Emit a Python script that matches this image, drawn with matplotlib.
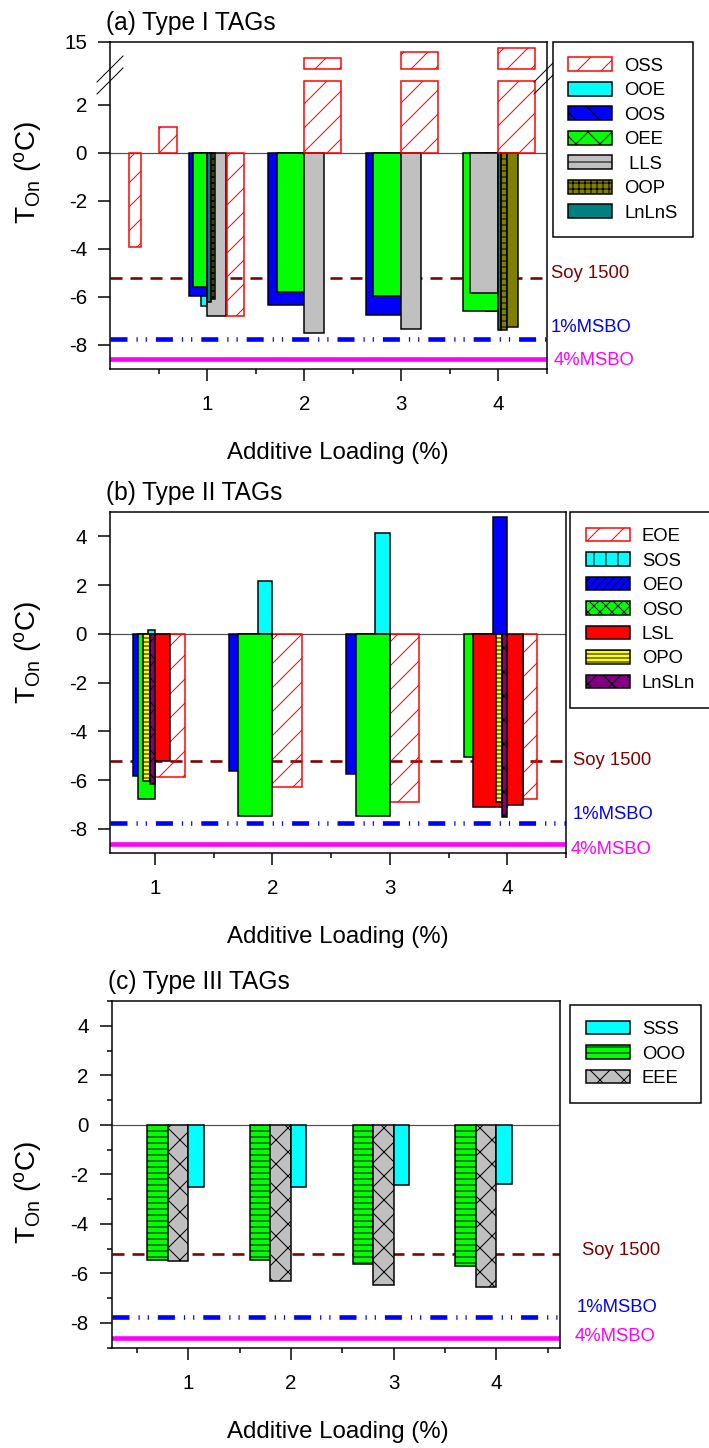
import numpy as np
import matplotlib
matplotlib.use("Agg")
import matplotlib.pyplot as plt
from matplotlib.patches import Patch
from matplotlib.lines import Line2D
import matplotlib.transforms as mtrans

nan = np.nan

# ======================= DATA =======================
loading = [1, 2, 3, 4]
xtick_labels = ["1", "2", "3", "4"]

# (a) Type I TAGs  -- onset temperature T_On (deg C)
oss_loading = [0.25, 0.5, 1, 2, 3, 4]
oss_ton = [-3.9, 1.1, -6.79, 12.1, 13.2, 13.8]
ooe_ton = [-6.36, nan, nan, nan]
oos_ton = [-5.95, -6.33, -6.75, -6.6]
oee_ton = [-5.6, -5.78, -5.94, -6.57]
lls_ton = [-6.79, -7.49, -7.35, -5.85]
lnlns_ton = [-6.2, nan, nan, -7.38]
oop_ton = [-6.08, nan, nan, -7.38]
oop2_ton = [nan, nan, nan, -7.26]

# (b) Type II TAGs
eoe_ton = [-5.89, -6.26, -6.91, -6.77]
sos_ton = [0.18, 2.18, 4.15, nan]
oeo_ton = [-5.82, -5.64, -5.75, 4.81]
oso_ton = [-6.76, -7.45, -7.45, -5.03]
lsl_ton = [-5.23, nan, nan, -7.12]
lsl2_ton = [nan, nan, nan, -7.0]
opo_ton = [-6.05, nan, nan, -6.9]
lnsln_ton = [-6.15, nan, nan, -7.51]

# (c) Type III TAGs
sss_ton = [-2.53, -2.53, -2.45, -2.39]
ooo_ton = [-5.44, -5.44, -5.6, -5.71]
eee_ton = [-5.51, -6.29, -6.45, -6.56]

# reference samples (horizontal lines)
ref_names = ["Soy 1500", "1%MSBO", "4%MSBO"]
ref_ton = [-5.2, -7.75, -8.6]

# ======================= LAYOUT / STYLE =======================
W, H = 709, 1448
DPI = 72
FONT = "Liberation Sans"
plt.rcParams["font.family"] = [FONT, "DejaVu Sans"]
plt.rcParams["mathtext.fontset"] = "custom"
plt.rcParams["mathtext.rm"] = FONT
plt.rcParams["mathtext.it"] = FONT
plt.rcParams["lines.scale_dashes"] = False
plt.rcParams["hatch.linewidth"] = 1.0

FS_TICK = 20.5
FS_LABEL = 24
FS_YLABEL = 28
FS_TITLE = 24.5
FS_LEG = 18.5
FS_REF = 18.5
EDGE_LW = 1.5

# per-bar (left offset from the loading value, width) in loading units
lay_a = {
    "oss": ([-0.05, 0.0, 0.205, 0.0, 0.0, -0.003], [0.117, 0.19, 0.178, 0.377, 0.376, 0.376]),
    "ooe": ([-0.062, 0, 0, 0], [0.062, 0, 0, 0]),
    "oos": ([-0.182, -0.37, -0.366, -0.126], [0.182, 0.37, 0.366, 0.126]),
    "oee": ([-0.141, -0.284, -0.29, -0.367], [0.141, 0.284, 0.29, 0.367]),
    "lls": ([0.0, 0.0, 0.0, -0.288], [0.195, 0.2, 0.2, 0.288]),
    "lnlns": ([0.0, 0, 0, 0.0], [0.035, 0, 0, 0.025]),
    "oop": ([0.035, 0, 0, 0.024], [0.048, 0, 0, 0.06]),
    "oop2": ([0, 0, 0, 0.084], [0, 0, 0, 0.116]),
}
lay_b = {
    "eoe": ([0.0, 0.0, 0.0, 0.131], [0.256, 0.252, 0.25, 0.119]),
    "sos": ([-0.062, -0.125, -0.128, 0], [0.062, 0.125, 0.128, 0]),
    "oeo": ([-0.185, -0.366, -0.37, -0.125], [0.185, 0.366, 0.37, 0.125]),
    "oso": ([-0.142, -0.29, -0.29, -0.366], [0.142, 0.29, 0.29, 0.366]),
    "lsl": ([0.0, 0, 0, -0.295], [0.128, 0, 0, 0.295]),
    "lsl2": ([0, 0, 0, 0.0], [0, 0, 0, 0.131]),
    "opo": ([-0.1, 0, 0, -0.096], [0.057, 0, 0, 0.048]),
    "lnsln": ([-0.043, 0, 0, -0.048], [0.043, 0, 0, 0.048]),
}
lay_c = {"ooo": (-0.4, 0.2), "eee": (-0.2, 0.2), "sss": (0.0, 0.15)}

C_RED = "#FF0000"
C_CYAN = "#00FFFF"
C_BLUE = "#0000FF"
C_GREEN = "#00FF00"
C_GRAY = "#C0C0C0"
C_OLIVE = "#808000"
C_TEAL = "#008080"
C_YELLOW = "#FFFF00"
C_PURPLE = "#800080"
C_DARKRED = "#800000"
C_MAG = "#FF00FF"

# broken axis for panel (a)
BRK_LO, BRK_HI = 3.0, 10.0
GAP = 0.5
UP_SCALE = 0.225


def fwd(y):
    y = np.asarray(y, dtype=float)
    return np.where(y <= BRK_LO, y,
                    np.where(y >= BRK_HI, BRK_LO + GAP + (y - BRK_HI) * UP_SCALE,
                             BRK_LO + (y - BRK_LO) * GAP / (BRK_HI - BRK_LO)))


def inv(m):
    m = np.asarray(m, dtype=float)
    return np.where(m <= BRK_LO, m,
                    np.where(m >= BRK_LO + GAP, BRK_HI + (m - BRK_LO - GAP) / UP_SCALE,
                             BRK_LO + (m - BRK_LO) * (BRK_HI - BRK_LO) / GAP))


def px_axes(fig, left, top, right, bottom):
    return fig.add_axes([left / W, 1 - bottom / H, (right - left) / W, (bottom - top) / H])


fig = plt.figure(figsize=(W / DPI, H / DPI), dpi=DPI)
fig.patch.set_facecolor("white")

ax_a = px_axes(fig, 110, 42, 547, 369)
ax_b = px_axes(fig, 110, 512, 566, 853.3)
ax_c = px_axes(fig, 111.7, 1001, 560, 1347.7)


def draw_series(ax, xs, vals, lay, fc, ec, hatch=None, split=False):
    offs, wids = lay
    for x, v, o, w in zip(xs, vals, offs, wids):
        if np.isnan(v) or w == 0:
            continue
        kw = dict(width=w, align="edge", facecolor=fc, edgecolor=ec,
                  linewidth=EDGE_LW, hatch=hatch, zorder=3)
        if split and v > BRK_LO:
            ax.bar(x + o, BRK_LO, bottom=0, **kw)
            ax.bar(x + o, v - BRK_HI, bottom=BRK_HI, **kw)
        else:
            ax.bar(x + o, v, **kw)


def style_axes(ax, xlim, ylim, yticks, minor_x, minor_y=None):
    ax.set_xlim(*xlim)
    ax.set_ylim(*ylim)
    ax.set_xticks(loading)
    ax.set_xticklabels(xtick_labels)
    ax.set_xticks(minor_x, minor=True)
    ax.set_yticks(yticks)
    ax.set_yticklabels([f"{t:g}" for t in yticks])
    if minor_y is not None:
        ax.set_yticks(minor_y, minor=True)
    else:
        ax.yaxis.set_minor_locator(matplotlib.ticker.NullLocator())
    ax.tick_params(axis="both", which="major", direction="out", length=12, width=1.5,
                   labelsize=FS_TICK, color="black")
    ax.tick_params(axis="both", which="minor", direction="out", length=5, width=1.5)
    ax.tick_params(axis="x", which="major", pad=14)
    ax.tick_params(axis="y", which="major", pad=11)
    ax.tick_params(top=False, right=False, which="both")
    for s in ax.spines.values():
        s.set_linewidth(1.5)
        s.set_color("black")
    ax.axhline(0, color="#505050", lw=1.2, zorder=2)


def ref_lines(ax, label_dx, label_dy):
    styles = [dict(color=C_DARKRED, lw=2.6, dashes=(12, 8)),
              dict(color=C_BLUE, lw=4.6, dashes=(17, 9, 1.2, 8, 1.2, 9)),
              dict(color=C_MAG, lw=4.6, linestyle="-")]
    for name, v, st, dx, dy in zip(ref_names, ref_ton, styles, label_dx, label_dy):
        ax.axhline(v, zorder=1, **st)
        ax.annotate(name, xy=(1, v), xycoords=ax.get_yaxis_transform(),
                    xytext=(dx, dy), textcoords="offset points",
                    ha="left", va="center", color=st["color"], fontsize=FS_REF,
                    annotation_clip=False)


def title(ax, txt):
    ax.annotate(txt, xy=(0, 1), xycoords="axes fraction", xytext=(-4, 7),
                textcoords="offset points", ha="left", va="bottom", fontsize=FS_TITLE)


def legend(ax, handles, labels, left, top):
    lg = fig.legend(handles, labels, loc="upper left",
                    bbox_to_anchor=(left / W, 1 - top / H), borderaxespad=0,
                    fontsize=FS_LEG, frameon=True, fancybox=False, shadow=False,
                    handlelength=2.38, handleheight=0.76, handletextpad=0.65,
                    labelspacing=0.39, borderpad=0.85)
    fr = lg.get_frame()
    fr.set_edgecolor("black")
    fr.set_linewidth(1.5)
    fr.set_alpha(1)
    return lg


def ylabel(ax_center_y):
    fig.text(28 / W, 1 - ax_center_y / H, r"T$_{\mathrm{On}}$ ($^{\mathrm{o}}$C)",
             rotation=90, ha="center", va="center", fontsize=FS_YLABEL)


def xlabel(cy):
    fig.text(338 / W, 1 - cy / H, "Additive Loading (%)", ha="center", va="center",
             fontsize=FS_LABEL)


# ----------------------- panel (a) -----------------------
ax = ax_a
ax.set_yscale("function", functions=(fwd, inv))
draw_series(ax, loading, ooe_ton, lay_a["ooe"], C_CYAN, "black")
draw_series(ax, loading, oos_ton, lay_a["oos"], C_BLUE, "black")
draw_series(ax, loading, oee_ton, lay_a["oee"], C_GREEN, "black")
draw_series(ax, loading, lls_ton, lay_a["lls"], C_GRAY, "black")
draw_series(ax, loading, lnlns_ton, lay_a["lnlns"], C_TEAL, "black")
draw_series(ax, loading, oop_ton, lay_a["oop"], C_OLIVE, "black", hatch="++")
draw_series(ax, loading, oop2_ton, lay_a["oop2"], C_OLIVE, "black")
draw_series(ax, oss_loading, oss_ton, lay_a["oss"], "none", C_RED, hatch="/", split=True)
style_axes(ax, (0, 4.5), (-9, 15), [-8, -6, -4, -2, 0, 2, 15], [0.5, 1.5, 2.5, 3.5, 4.5])
ref_lines(ax, [4, 4, 6.5], [4, 11, -1.5])
title(ax, "(a) Type I TAGs")

# break marks on both spines
ygap_val = inv(BRK_LO + GAP / 2)
for xa in (0, 1):
    cx = ax.transAxes.transform((xa, 0))[0]
    cy = ax.transData.transform((1, float(ygap_val)))[1]
    for d in (-6, 6):
        fig.add_artist(Line2D([cx - 13, cx + 13], [cy + d - 13, cy + d + 13],
                              transform=mtrans.IdentityTransform(), color="black",
                              lw=1.0, clip_on=False))

leg_a = [Patch(facecolor="white", edgecolor=C_RED, hatch="/", lw=EDGE_LW),
         Patch(facecolor=C_CYAN, edgecolor="black", lw=EDGE_LW),
         Patch(facecolor=C_BLUE, edgecolor="black", hatch="\\", lw=EDGE_LW),
         Patch(facecolor=C_GREEN, edgecolor="black", hatch="x", lw=EDGE_LW),
         Patch(facecolor=C_GRAY, edgecolor="black", hatch="-", lw=EDGE_LW),
         Patch(facecolor=C_OLIVE, edgecolor="black", hatch="++", lw=EDGE_LW),
         Patch(facecolor=C_TEAL, edgecolor="black", lw=EDGE_LW)]
legend(ax, leg_a, ["OSS", "OOE", "OOS", "OEE", " LLS", "OOP", "LnLnS"], 552.7, 41.7)
ylabel(172)
xlabel(453)

# ----------------------- panel (b) -----------------------
ax = ax_b
draw_series(ax, loading, eoe_ton, lay_b["eoe"], "none", C_RED, hatch="/")
draw_series(ax, loading, sos_ton, lay_b["sos"], C_CYAN, "black")
draw_series(ax, loading, oeo_ton, lay_b["oeo"], C_BLUE, "black")
draw_series(ax, loading, oso_ton, lay_b["oso"], C_GREEN, "black")
draw_series(ax, loading, lsl_ton, lay_b["lsl"], C_RED, "black")
draw_series(ax, loading, lsl2_ton, lay_b["lsl2"], C_RED, "black")
draw_series(ax, loading, opo_ton, lay_b["opo"], C_YELLOW, "black", hatch="---")
draw_series(ax, loading, lnsln_ton, lay_b["lnsln"], C_PURPLE, "black", hatch="x")
style_axes(ax, (0.617, 4.5), (-9, 5), [-8, -6, -4, -2, 0, 2, 4], [1.5, 2.5, 3.5, 4.5])
ref_lines(ax, [7, 7, 5], [0, 8, -6])
title(ax, "(b) Type II TAGs")
leg_b = [Patch(facecolor="white", edgecolor=C_RED, hatch="/", lw=EDGE_LW),
         Patch(facecolor=C_CYAN, edgecolor="black", hatch="|", lw=EDGE_LW),
         Patch(facecolor=C_BLUE, edgecolor="black", hatch="///", lw=EDGE_LW),
         Patch(facecolor=C_GREEN, edgecolor="black", hatch="xx", lw=EDGE_LW),
         Patch(facecolor=C_RED, edgecolor="black", lw=EDGE_LW),
         Patch(facecolor=C_YELLOW, edgecolor="black", hatch="---", lw=EDGE_LW),
         Patch(facecolor=C_PURPLE, edgecolor="black", hatch="x", lw=EDGE_LW)]
legend(ax, leg_b, ["EOE", "SOS", "OEO", "OSO", "LSL", "OPO", "LnSLn"], 570, 512)
ylabel(652)
xlabel(937)

# ----------------------- panel (c) -----------------------
ax = ax_c
for vals, key, fc, hat in [(ooo_ton, "ooo", C_GREEN, "--"),
                           (eee_ton, "eee", C_GRAY, "x"),
                           (sss_ton, "sss", C_CYAN, None)]:
    o, w = lay_c[key]
    draw_series(ax, loading, vals, ([o] * 4, [w] * 4), fc, "black", hatch=hat)
style_axes(ax, (0.255, 4.62), (-9, 5), [-8, -6, -4, -2, 0, 2, 4],
           [0.5, 1.5, 2.5, 3.5, 4.5], minor_y=[-9, -7, -5, -3, -1, 1, 3, 5])
ref_lines(ax, [22, 17, 15], [3, 9, 1])
title(ax, "(c) Type III TAGs")
leg_c = [Patch(facecolor=C_CYAN, edgecolor="black", lw=EDGE_LW),
         Patch(facecolor=C_GREEN, edgecolor="black", hatch="--", lw=EDGE_LW),
         Patch(facecolor=C_GRAY, edgecolor="black", hatch="x", lw=EDGE_LW)]
legend(ax, leg_c, ["SSS", "OOO", "EEE"], 570, 1005)
ylabel(1192)
xlabel(1432)

fig.savefig("out.png", dpi=DPI, facecolor="white")
